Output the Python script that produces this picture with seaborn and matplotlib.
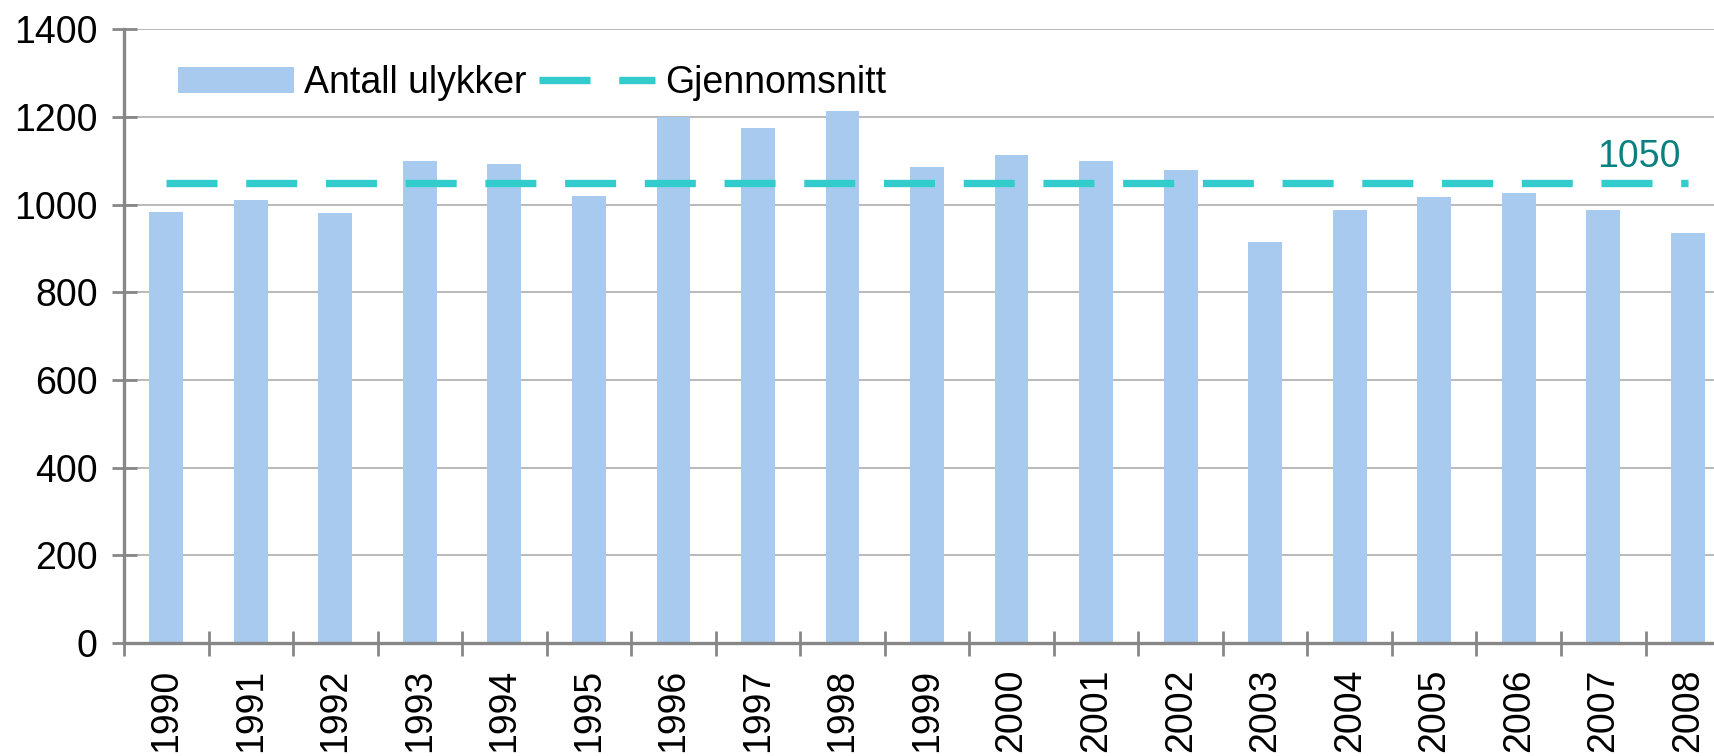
"""Antall ulykker per år 1990-2008 med gjennomsnittslinje."""

import matplotlib

matplotlib.use("Agg")
import matplotlib.pyplot as plt
import numpy as np
import seaborn as sns

years = [str(y) for y in range(1990, 2009)]
ulykker = [983, 1011, 981, 1100, 1093, 1021, 1200, 1175, 1213, 1086,
           1113, 1100, 1080, 914, 987, 1017, 1026, 989, 935]
gjennomsnitt = [1050] * len(years)
y_ticks = [0, 200, 400, 600, 800, 1000, 1200, 1400]

BAR_COLOR = "#a8caef"
LINE_COLOR = "#33cccc"
LABEL_COLOR = "#0b8080"
AXIS_COLOR = "#878787"
GRID_COLOR = "#a6a6a6"
FS = 27


def main():
    sns.set_theme(style="white")
    plt.rcParams["font.family"] = ["Liberation Sans", "DejaVu Sans"]
    plt.rcParams["text.color"] = "black"
    plt.rcParams["xtick.color"] = "black"
    plt.rcParams["ytick.color"] = "black"

    fig = plt.figure(figsize=(17.15, 7.56), dpi=100)
    # plot area runs a bit past the right edge, like the original export
    ax = fig.add_axes([0.0723, 0.1495, 0.9365, 0.8115])

    sns.barplot(x=years, y=ulykker, color=BAR_COLOR, width=0.4, linewidth=0,
                saturation=1, label="Antall ulykker", ax=ax, zorder=2)
    sns.pointplot(x=years, y=gjennomsnitt, color=LINE_COLOR, markers="",
                  linestyles=(0, (6.93, 3.9)), linewidth=5.3, errorbar=None,
                  label="Gjennomsnitt", ax=ax, zorder=3)

    ax.set_xlim(-0.5, len(years) - 0.5)
    ax.set_ylim(y_ticks[0], y_ticks[-1])
    ax.set_yticks(y_ticks)
    ax.set_xlabel("")
    ax.set_ylabel("")

    ax.yaxis.grid(True, color=GRID_COLOR, linewidth=1.1, zorder=0)
    ax.set_axisbelow(True)
    for side in ("top", "right"):
        ax.spines[side].set_visible(False)
    for side in ("left", "bottom"):
        ax.spines[side].set_color(AXIS_COLOR)
        ax.spines[side].set_linewidth(2.4)

    # tick marks sit between the bars, labels under the bars
    ax.set_xticks(np.arange(len(years)))
    ax.set_xticklabels(years, rotation=90)
    ax.set_xticks(np.arange(len(years) + 1) - 0.5, minor=True)
    ax.tick_params(axis="x", which="major", length=0, pad=18.5, labelsize=FS,
                   labelcolor="black")
    ax.tick_params(axis="x", which="minor", direction="inout", length=18,
                   width=2.0, color=AXIS_COLOR, bottom=True)
    ax.tick_params(axis="y", direction="inout", length=18, width=2.0,
                   color=AXIS_COLOR, pad=10, labelsize=FS, left=True,
                   labelcolor="black")

    ax.annotate("1050", xy=(len(years) - 1.08, gjennomsnitt[-1]),
                xytext=(0, 6), textcoords="offset points",
                ha="right", va="bottom", fontsize=FS, color=LABEL_COLOR)

    handles, labels = ax.get_legend_handles_labels()
    order = [labels.index("Antall ulykker"), labels.index("Gjennomsnitt")]
    ax.legend([handles[i] for i in order], [labels[i] for i in order],
              loc="center left", bbox_to_anchor=(0.0337, 0.9126), ncol=2,
              frameon=False, fontsize=FS, borderpad=0, borderaxespad=0,
              handlelength=3.1, handleheight=0.7, handletextpad=0.25,
              columnspacing=0.35)

    fig.savefig("out.png", dpi=100)


if __name__ == "__main__":
    main()
